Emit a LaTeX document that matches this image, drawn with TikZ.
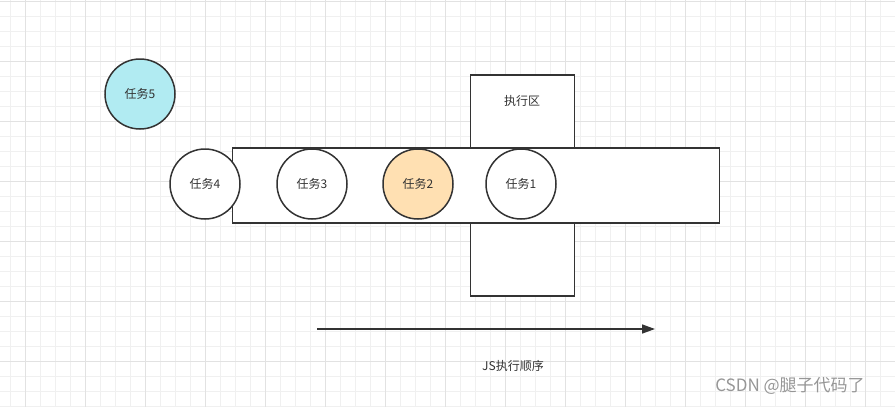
\documentclass[tikz,border=0pt]{standalone}
\usepackage{fontspec}
\setmainfont{Noto Sans CJK SC}
\usetikzlibrary{arrows.meta}
\definecolor{gridminor}{RGB}{240,240,240}
\definecolor{gridmajor}{RGB}{226,226,226}
\definecolor{ink}{RGB}{51,51,51}
\definecolor{cyanfill}{RGB}{177,235,242}
\definecolor{orangefill}{RGB}{255,224,178}
\definecolor{wm}{RGB}{150,150,150}
\tikzset{
  task/.style={circle, draw=ink, line width=1.5pt, minimum size=70pt, inner sep=0pt, fill=white, text=ink, font=\fontsize{12}{14}\selectfont},
  box/.style={draw=ink, line width=1.5pt, fill=white},
  label/.style={text=ink, font=\fontsize{12}{14}\selectfont, inner sep=0pt},
}
\begin{document}
\begin{tikzpicture}[x=1pt,y=-1pt]
\useasboundingbox (0,0) rectangle (895,407);
\fill[white] (0,0) rectangle (895,407);
% grid
\foreach \xx in {10,25,...,895} \draw[gridminor, line width=0.8pt] (\xx,0) -- (\xx,407);
\foreach \yy in {1,16,...,407} \draw[gridminor, line width=0.8pt] (0,\yy) -- (895,\yy);
\foreach \xx in {25,85,...,865} \draw[gridmajor, line width=0.8pt] (\xx,0) -- (\xx,407);
\foreach \yy in {1,61,...,400} \draw[gridmajor, line width=0.8pt] (0,\yy) -- (895,\yy);
% execution area
\node[box, minimum width=104pt, minimum height=221pt, inner sep=0pt, anchor=north west] (exec) at (469.5,74) {};
\node[label] (execlabel) at (522,101) {执行区};
% queue
\node[box, minimum width=487pt, minimum height=75pt, inner sep=0pt, anchor=north west] (queue) at (231.5,147) {};
% tasks
\node[task, fill=cyanfill] (t5) at (140,94) {任务5};
\node[task] (t4) at (205,184) {任务4};
\node[task] (t3) at (312,184) {任务3};
\node[task, fill=orangefill] (t2) at (418,184) {任务2};
\node[task] (t1) at (521,184) {任务1};
% order arrow
\coordinate (astart) at (317,329);
\coordinate (aend) at (655,329);
\draw[ink, line width=1.5pt, -{Triangle[length=13pt,width=9pt]}] (astart) -- (aend);
\node[label] (order) at (513,366) {JS执行顺序};
% watermark
\node[text=wm, font=\fontsize{17}{19}\selectfont, inner sep=0pt] (mark) at (790,386) {CSDN @腿子代码了};
\end{tikzpicture}
\end{document}
